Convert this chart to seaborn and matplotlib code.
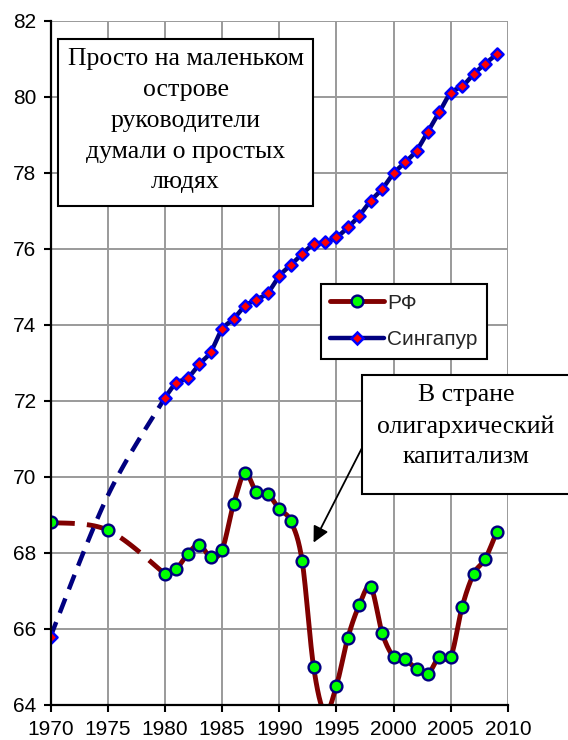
import numpy as np
import pandas as pd
import matplotlib
matplotlib.use("Agg")
import matplotlib.pyplot as plt
from matplotlib.lines import Line2D
from matplotlib.patches import Rectangle
import seaborn as sns

# ---- data ----
years_gap = [1970, 1975, 1980]
years_main = list(range(1980, 2010))

ru_gap = [68.8, 68.6, 67.45]
ru_main = [67.45, 67.58, 67.97, 68.22, 67.89, 68.08, 69.28, 70.1, 69.6, 69.55,
           69.15, 68.84, 67.79, 65.01, 63.8, 64.51, 65.77, 66.63, 67.1, 65.89,
           65.27, 65.2, 64.95, 64.82, 65.27, 65.27, 66.59, 67.45, 67.84, 68.54]

sg_gap = [65.8, 69.5, 72.08]
sg_main = [72.08, 72.47, 72.6, 72.96, 73.28, 73.88, 74.15, 74.49, 74.66, 74.84,
           75.28, 75.57, 75.86, 76.11, 76.17, 76.30, 76.56, 76.87, 77.26, 77.57,
           77.98, 78.27, 78.58, 79.08, 79.59, 80.10, 80.27, 80.59, 80.86, 81.11]

ru_marker_years = [1970, 1975] + years_main
ru_marker_vals = ru_gap[:2] + ru_main
sg_marker_years = [1970] + years_main
sg_marker_vals = [sg_gap[0]] + sg_main

x_ticks = list(range(1970, 2011, 5))
y_ticks = list(range(64, 83, 2))

label_ru = "РФ"
label_sg = "Сингапур"
note1 = "Просто на маленьком\nострове\nруководители\nдумали о простых\nлюдях"
note2 = "В стране\nолигархический\nкапитализм"

# ---- smoothing (Excel-like bezier smoothing in screen-scaled space) ----
SX, SY = 11.44, 38.1


def smooth(xs, ys, n=24):
    P = np.column_stack([np.asarray(xs, float) * SX, np.asarray(ys, float) * SY])
    pts = []
    for i in range(len(P) - 1):
        p0 = P[i - 1] if i > 0 else P[i]
        p1, p2 = P[i], P[i + 1]
        p3 = P[i + 2] if i + 2 < len(P) else P[i + 1]
        c1 = p1 + (p2 - p0) / 6.0
        c2 = p2 - (p3 - p1) / 6.0
        t = np.linspace(0, 1, n)[:, None]
        seg = ((1 - t) ** 3) * p1 + 3 * ((1 - t) ** 2) * t * c1 + 3 * (1 - t) * t ** 2 * c2 + t ** 3 * p2
        if i > 0:
            seg = seg[1:]
        pts.append(seg)
    pts = np.vstack(pts)
    return pd.DataFrame({"x": pts[:, 0] / SX, "y": pts[:, 1] / SY})


sns.set_theme(style="white")
plt.rcParams["font.family"] = ["Liberation Sans", "DejaVu Sans"]

W, H = 568, 740
fig = plt.figure(figsize=(W / 100, H / 100), dpi=100)
fig.patch.set_facecolor("white")
ax = fig.add_axes([50.5 / W, 1 - 705 / H, (508 - 50.5) / W, (705 - 20.5) / H])
ax.set_facecolor("white")

RU_LINE = "#800000"
SG_LINE = "#000080"

# Russia
d = smooth(years_gap, ru_gap)
sns.lineplot(data=d, x="x", y="y", sort=False, estimator=None, ax=ax, color=RU_LINE,
             linewidth=3.5, linestyle=(0, (5, 2.5)), zorder=3, legend=False)
d = smooth(years_main, ru_main)
sns.lineplot(data=d, x="x", y="y", sort=False, estimator=None, ax=ax, color=RU_LINE,
             linewidth=3.5, zorder=3, legend=False)
sns.scatterplot(x=ru_marker_years, y=ru_marker_vals, ax=ax, marker="o", s=72,
                color="#00ff00", edgecolor="#000080", linewidth=1.7, zorder=4, legend=False)

# Singapore
d = smooth(years_gap, sg_gap)
sns.lineplot(data=d, x="x", y="y", sort=False, estimator=None, ax=ax, color=SG_LINE,
             linewidth=3.2, linestyle=(0, (3.5, 2.2)), zorder=5, legend=False)
d = smooth(years_main, sg_main)
sns.lineplot(data=d, x="x", y="y", sort=False, estimator=None, ax=ax, color=SG_LINE,
             linewidth=3.2, zorder=5, legend=False)
sns.scatterplot(x=sg_marker_years, y=sg_marker_vals, ax=ax, marker="D", s=38,
                color="#ff0000", edgecolor="#0000ff", linewidth=1.8, zorder=6, legend=False)

ax.set_xlim(1970, 2010)
ax.set_ylim(64, 82)
ax.set_xticks(x_ticks)
ax.set_yticks(y_ticks)
ax.set_xlabel("")
ax.set_ylabel("")
ax.grid(True, color="#9a9a9a", linewidth=1.4, zorder=0)
ax.set_axisbelow(True)
for s in ["top", "right"]:
    ax.spines[s].set_visible(False)
for s in ["left", "bottom"]:
    ax.spines[s].set_color("black")
    ax.spines[s].set_linewidth(1.6)
    ax.spines[s].set_zorder(7)
ax.tick_params(axis="both", which="major", direction="out", length=5, width=1.5,
               color="black", labelsize=15, labelcolor="black", left=True, bottom=True)
ax.tick_params(axis="y", pad=5)
ax.tick_params(axis="x", pad=6)

# legend
handles = [
    Line2D([0], [0], color=RU_LINE, linewidth=3.5, marker="o", markersize=8.5,
           markerfacecolor="#00ff00", markeredgecolor="#000080", markeredgewidth=1.7),
    Line2D([0], [0], color=SG_LINE, linewidth=3.2, marker="D", markersize=6.5,
           markerfacecolor="#ff0000", markeredgecolor="#0000ff", markeredgewidth=1.8),
]
leg = ax.legend(handles, [label_ru, label_sg], loc="upper left",
                bbox_to_anchor=(320.7 / W, 1 - 284.3 / H), bbox_transform=fig.transFigure,
                borderaxespad=0, fancybox=False, framealpha=1, edgecolor="black",
                fontsize=15, handlelength=2.6, handletextpad=0.15, labelspacing=0.85,
                borderpad=0.45)
leg.get_frame().set_linewidth(1.5)
leg.set_zorder(10)

# annotation boxes
def fig_box(l, t, r, b, text):
    rect = Rectangle((l / W, 1 - b / H), (r - l) / W, (b - t) / H, transform=fig.transFigure,
                     facecolor="white", edgecolor="black", linewidth=1.5, zorder=20)
    fig.patches.append(rect)
    fig.text((l + r) / 2 / W, 1 - (t + 9) / H, text, ha="center", va="top",
             family=["Liberation Serif", "DejaVu Serif"], fontsize=18.5, linespacing=1.52,
             color="black", zorder=21)

fig_box(57.7, 39, 313.3, 206, note1)
fig_box(361.7, 375, 570, 494.3, note2)

ax.annotate("", xy=(1993.0, 68.27), xytext=(1997.2, 70.74),
            arrowprops=dict(arrowstyle="-|>", color="black", lw=1.3, mutation_scale=24,
                            shrinkA=0, shrinkB=0), zorder=15, annotation_clip=False)

fig.savefig("out.png", dpi=100, facecolor="white")
